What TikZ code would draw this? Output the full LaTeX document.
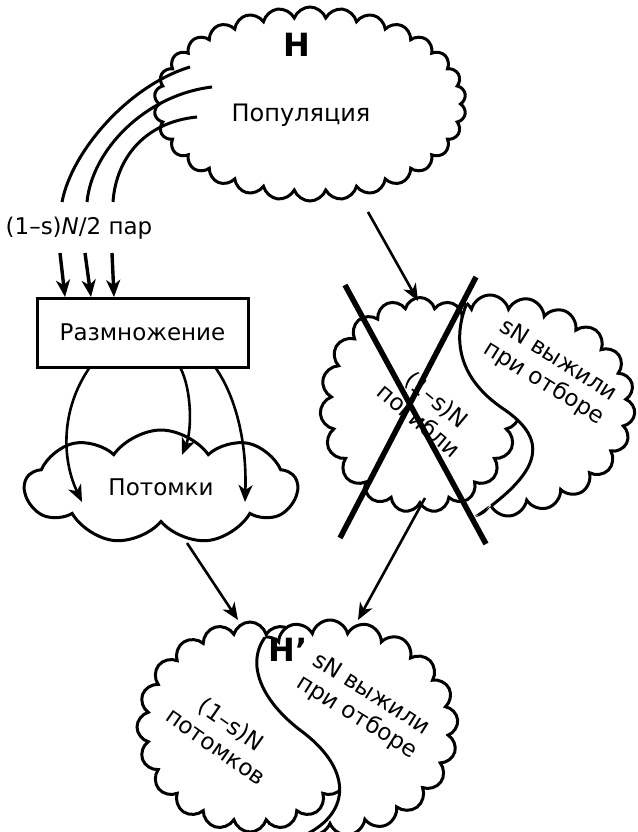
\documentclass[tikz,border=0pt]{standalone}
\usepackage{fontspec}
\setmainfont{DejaVu Sans}
\usetikzlibrary{shapes.symbols,arrows.meta}

\begin{document}
\begin{tikzpicture}[x=1pt,y=-1pt,
  cloudbox/.style={cloud, cloud ignores aspect, draw, fill=white, line width=3pt, inner sep=0pt},
  cloudcut/.style={cloud, cloud ignores aspect, inner sep=0pt},
  arr/.style={line width=2.6pt, -{Stealth[length=17pt,width=14pt,inset=5pt]}},
  thickarr/.style={line width=3.4pt, -{Stealth[length=17pt,width=14pt,inset=5pt]}},
  strand/.style={line width=3pt},
  cross/.style={line width=5.5pt},
  lbl/.style={font=\fontsize{23}{27}\selectfont, align=center},
  big/.style={font=\fontsize{32}{34}\selectfont\bfseries}
]
\useasboundingbox (0,0) rectangle (637,832);

% --- population cloud ---
\node[cloudbox, cloud puffs=30, cloud puff arc=140, minimum width=312pt, minimum height=194pt] (pop) at (310,104) {};
\node[big] (H) at (297,45) {H};
\node[lbl, font=\fontsize{24}{28}\selectfont] (poptxt) at (301,115) {Популяция};

% three strands leaving the population
\coordinate (s1a) at (62,202);  \coordinate (s1b) at (190,67);
\coordinate (s2a) at (87,202);  \coordinate (s2b) at (212,87);
\coordinate (s3a) at (113,202); \coordinate (s3b) at (197,117);
\draw[strand] (s1a) .. controls (72,150) and (130,85) .. (s1b);
\draw[strand] (s2a) .. controls (92,150) and (145,95) .. (s2b);
\draw[strand] (s3a) .. controls (116,158) and (145,122) .. (s3b);

\node[lbl] (pairs) at (79,228) {(1–s)\textit{N}/2 пар};

% reproduction box
\node[draw, line width=3pt, minimum width=211pt, minimum height=69pt, lbl] (box) at (142.5,332.5) {Размножение};
\coordinate (t1a) at (60,253);  \coordinate (t1b) at (65,297);
\coordinate (t2a) at (85,253);  \coordinate (t2b) at (91,297);
\coordinate (t3a) at (112,253); \coordinate (t3b) at (114,297);
\draw[thickarr] (t1a) -- (t1b);
\draw[thickarr] (t2a) -- (t2b);
\draw[thickarr] (t3a) -- (t3b);

% offspring cloud
\node[cloudbox, cloud puffs=9, cloud puff arc=110, minimum width=272pt, minimum height=114pt, lbl] (kids) at (161,487) {Потомки};
\coordinate (b1) at (90,367);  \coordinate (k1) at (82,502);
\coordinate (b2) at (180,367); \coordinate (k2) at (182,455);
\coordinate (b3) at (215,367); \coordinate (k3) at (245,502);
\draw[arr] (b1) .. controls (60,410) and (62,460) .. (k1);
\draw[arr] (b2) .. controls (192,390) and (192,430) .. (k2);
\draw[arr] (b3) .. controls (235,395) and (247,440) .. (k3);

% selection: dead part and surviving part
\node[cloudbox, cloud puffs=19, minimum width=200pt, minimum height=215pt] (dead) at (420,405) {};
\coordinate (sA) at (472,292);
\coordinate (sc1) at (452,330);
\coordinate (sc2) at (452,375);
\coordinate (sM) at (505,410);
\coordinate (sc3) at (548,440);
\coordinate (sc4) at (545,472);
\coordinate (sB) at (468,522);
\begin{scope}
  \clip (480,240) -- (sA) .. controls (sc1) and (sc2) .. (sM) .. controls (sc3) and (sc4) .. (sB) -- (455,580) -- (700,580) -- (700,240) -- cycle;
  \node[cloudbox, cloud puffs=23, minimum width=290pt, minimum height=222pt] (alive) at (490,406) {};
\end{scope}
\node[cloudcut, cloud puffs=23, minimum width=290pt, minimum height=222pt,
  path picture={\draw[line width=3pt] (sA) .. controls (sc1) and (sc2) .. (sM) .. controls (sc3) and (sc4) .. (sB);}] (alivecut) at (490,406) {};
\node[lbl, rotate=-40] (deadtxt) at (428,410) {(1–s)N\\погибли};
\node[lbl, rotate=-32] (alivetxt) at (551,372) {sN выжили\\при отборе};

\coordinate (popout) at (368,212);
\coordinate (deadin) at (418,301);
\draw[arr] (popout) -- (deadin);

% the cross over the dead part
\coordinate (x1a) at (345,285); \coordinate (x1b) at (486,544);
\coordinate (x2a) at (476,277); \coordinate (x2b) at (340,538);
\draw[cross] (x1a) -- (x1b);
\draw[cross] (x2a) -- (x2b);

% new population
\node[cloudbox, cloud puffs=20, minimum width=226pt, minimum height=210pt] (offs) at (250,727) {};
\coordinate (tA) at (292,617);
\coordinate (tc1) at (240,640);
\coordinate (tc2) at (248,690);
\coordinate (tM) at (300,730);
\coordinate (tc3) at (352,768);
\coordinate (tc4) at (352,812);
\coordinate (tB) at (305,835);
\begin{scope}
  \clip (344,594) -- (tA) .. controls (tc1) and (tc2) .. (tM) .. controls (tc3) and (tc4) .. (tB) -- (280,870) -- (700,870) -- (700,560) -- (344,560) -- cycle;
  \node[cloudbox, cloud puffs=21, minimum width=256pt, minimum height=216pt] (surv) at (330,728) {};
\end{scope}
\node[cloudcut, cloud puffs=21, minimum width=256pt, minimum height=216pt,
  path picture={\draw[line width=3pt] (tA) .. controls (tc1) and (tc2) .. (tM) .. controls (tc3) and (tc4) .. (tB);}] (survcut) at (330,728) {};
\node[big] (H2) at (288,650) {H\kern1pt'};
\node[lbl, rotate=-35] (offstxt) at (224,735) {(1–s)N\\потомков};
\node[lbl, rotate=-32] (survtxt) at (364,706) {sN выжили\\при отборе};

\coordinate (kout) at (187,543);  \coordinate (hin1) at (238,620);
\coordinate (dout) at (425,498);  \coordinate (hin2) at (358,620);
\draw[arr] (kout) -- (hin1);
\draw[arr] (dout) -- (hin2);
\end{tikzpicture}
\end{document}
